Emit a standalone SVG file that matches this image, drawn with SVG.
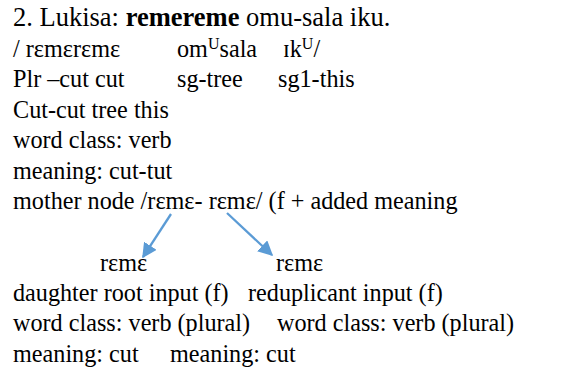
<svg xmlns="http://www.w3.org/2000/svg" width="571" height="372" viewBox="0 0 571 372">
  <style>
    text { font-family: "Liberation Serif", "Times New Roman", serif; font-size: 24.2px; fill: #000; }
    .title { font-size: 26.5px; }
    .b { font-weight: bold; }
    .sup { font-size: 16px; }
    .arrow { stroke: #5B9BD5; stroke-width: 2.3; fill: none; marker-end: url(#head); }
  </style>
  <defs>
    <marker id="head" viewBox="0 0 10 10" refX="9" refY="5" markerWidth="6.5" markerHeight="6.5" orient="auto" markerUnits="strokeWidth">
      <path d="M0,0 L10,5 L0,10 z" fill="#5B9BD5"/>
    </marker>
  </defs>
  <rect width="571" height="372" fill="#fff"/>

  <g id="example">
    <text class="title" x="13" y="26">2. Lukisa: <tspan class="b">remereme</tspan> omu-sala iku.</text>
    <text x="13" y="56.5">/ rεmεrεmε</text>
    <text x="177" y="56.5">om<tspan class="sup" dy="-8">U</tspan><tspan dy="8">sala</tspan></text>
    <text x="283" y="56.5">ɪk<tspan class="sup" dy="-8">U</tspan><tspan dy="8">/</tspan></text>
    <text x="13" y="87">Plr –cut cut</text>
    <text x="177" y="87">sg-tree</text>
    <text x="278" y="87">sg1-this</text>
    <text x="13" y="117.5">Cut-cut tree this</text>
  </g>

  <g id="mother-node">
    <text x="13" y="148">word class: verb</text>
    <text x="13" y="178.5">meaning: cut-tut</text>
    <text x="13" y="209">mother node /rεmε- rεmε/ (f + added meaning</text>
  </g>

  <g id="connectors">
    <line class="arrow" x1="171" y1="214" x2="143" y2="257"/>
    <line class="arrow" x1="227" y1="213" x2="272" y2="255"/>
  </g>

  <g id="daughter-root">
    <text x="100" y="271">rεmε</text>
    <text x="13" y="300.5">daughter root input (f)</text>
    <text x="13" y="331">word class: verb (plural)</text>
    <text x="13" y="361.5">meaning: cut</text>
  </g>

  <g id="reduplicant">
    <text x="276" y="271">rεmε</text>
    <text x="248" y="300.5">reduplicant input (f)</text>
    <text x="277" y="331">word class: verb (plural)</text>
    <text x="170" y="361.5">meaning: cut</text>
  </g>
</svg>
